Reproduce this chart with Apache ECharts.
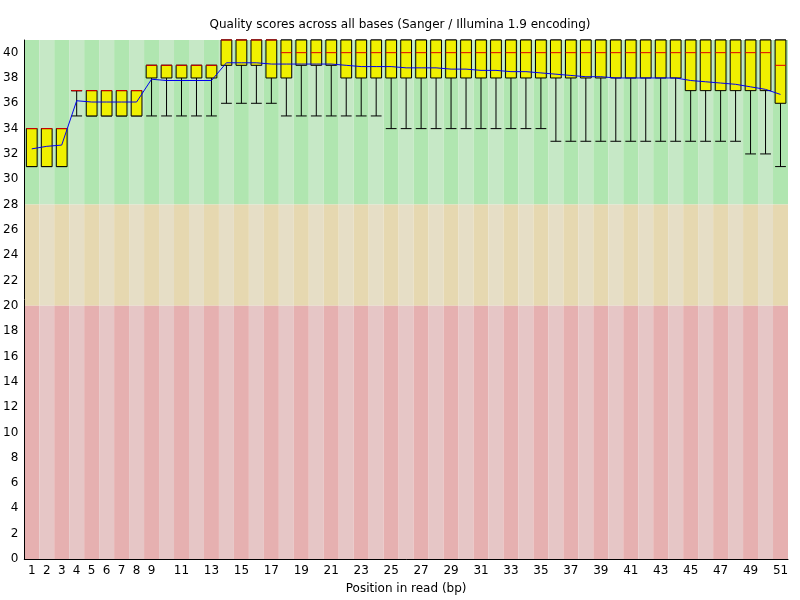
<!DOCTYPE html>
<html>
<head>
<meta charset="utf-8">
<script src="https://cdn.jsdelivr.net/npm/echarts@6/dist/echarts.min.js"></script>
<style>html,body{margin:0;padding:0;background:#fff}#chart{width:800px;height:600px}</style>
</head>
<body>
<div id="chart"></div>
<script>
var positions = [];
for (var i = 1; i <= 51; i++) positions.push(String(i));

// 10th percentile, Q1, median, Q3, 90th percentile
var lowWhisker = [31,31,31,35,35,35,35,35,35,35,35,35,35,36,36,36,36,35,35,35,35,35,35,35,34,34,34,34,34,34,34,34,34,34,34,33,33,33,33,33,33,33,33,33,33,33,33,33,32,32,31];
var q1 =         [31,31,31,37,35,35,35,35,38,38,38,38,38,39,39,39,38,38,39,39,39,38,38,38,38,38,38,38,38,38,38,38,38,38,38,38,38,38,38,38,38,38,38,38,37,37,37,37,37,37,36];
var medians =    [34,34,34,37,37,37,37,37,39,39,39,39,39,41,41,41,41,40,40,40,40,40,40,40,40,40,40,40,40,40,40,40,40,40,40,40,40,40,40,40,40,40,40,40,40,40,40,40,40,40,39];
var q3 =         [34,34,34,37,37,37,37,37,39,39,39,39,39,41,41,41,41,41,41,41,41,41,41,41,41,41,41,41,41,41,41,41,41,41,41,41,41,41,41,41,41,41,41,41,41,41,41,41,41,41,41];
var highWhisker =[34,34,34,37,37,37,37,37,39,39,39,39,39,41,41,41,41,41,41,41,41,41,41,41,41,41,41,41,41,41,41,41,41,41,41,41,41,41,41,41,41,41,41,41,41,41,41,41,41,41,41];
var means = [32.4,32.6,32.7,36.2,36.1,36.1,36.1,36.1,37.9,37.8,37.8,37.8,37.8,39.2,39.2,39.2,39.1,39.1,39.1,39.1,39.1,39.0,38.9,38.9,38.9,38.8,38.8,38.8,38.7,38.7,38.6,38.6,38.5,38.5,38.4,38.3,38.2,38.1,38.1,38.0,38.0,38.0,38.0,38.0,37.8,37.7,37.6,37.5,37.3,37.1,36.7];

var chart = echarts.init(document.getElementById('chart'));

var bands = [
    {from: 28, to: 41, colors: ['#b0e6b0', '#c6e8c6']},
    {from: 20, to: 28, colors: ['#e6d8b0', '#e6dec6']},
    {from: 0, to: 20, colors: ['#e6b0b0', '#e6c6c6']}
];

function renderBackground(params, api) {
    var idx = api.value(0);
    var w = api.size([1, 0])[0];
    var children = [];
    bands.forEach(function(b){
        var top = api.coord([idx, b.to]);
        var bot = api.coord([idx, b.from]);
        children.push({
            type: 'rect',
            shape: {x: top[0] - w / 2, y: top[1], width: w, height: bot[1] - top[1]},
            style: {fill: b.colors[idx % 2]}
        });
    });
    return {type: 'group', children: children, silent: true};
}

function renderBox(params, api) {
    var idx = api.value(0);
    var w = api.size([1, 0])[0] * 0.72;
    var pLo = api.coord([idx, api.value(1)]);
    var pQ1 = api.coord([idx, api.value(2)]);
    var pMed = api.coord([idx, api.value(3)]);
    var pQ3 = api.coord([idx, api.value(4)]);
    var pHi = api.coord([idx, api.value(5)]);
    var x = pQ1[0];
    var line = {stroke: '#000', lineWidth: 1};
    var children = [
        {type: 'line', shape: {x1: x, y1: pLo[1], x2: x, y2: pHi[1]}, style: line},
        {type: 'line', shape: {x1: x - w / 2, y1: pLo[1], x2: x + w / 2, y2: pLo[1]}, style: line},
        {type: 'line', shape: {x1: x - w / 2, y1: pHi[1], x2: x + w / 2, y2: pHi[1]}, style: line},
        {type: 'rect', shape: {x: x - w / 2, y: pQ3[1], width: w, height: pQ1[1] - pQ3[1]},
            style: {fill: '#f0f000', stroke: '#000', lineWidth: 1}},
        {type: 'line', shape: {x1: x - w / 2, y1: pMed[1], x2: x + w / 2, y2: pMed[1]},
            style: {stroke: '#e00000', lineWidth: 1}}
    ];
    return {type: 'group', children: children};
}

var bgData = positions.map(function(p, i){ return [i]; });
var boxData = positions.map(function(p, i){
    return [i, lowWhisker[i], q1[i], medians[i], q3[i], highWhisker[i]];
});

chart.setOption({
    animation: false,
    title: {
        text: 'Quality scores across all bases (Sanger / Illumina 1.9 encoding)',
        left: 'center', top: 14,
        textStyle: {fontFamily: 'DejaVu Sans', fontSize: 12, fontWeight: 'normal', color: '#000'}
    },
    grid: {left: 20, right: 12, top: 40, bottom: 39},
    xAxis: {
        type: 'category',
        data: positions,
        name: 'Position in read (bp)',
        nameLocation: 'middle',
        nameGap: 24,
        nameTextStyle: {fontFamily: 'DejaVu Sans', fontSize: 12, color: '#000'},
        axisTick: {show: false},
        axisLine: {lineStyle: {color: '#000'}},
        axisLabel: {
            color: '#000', fontFamily: 'DejaVu Sans', fontSize: 12, margin: 6,
            interval: function(i){ return i < 9 || i % 2 === 0; }
        }
    },
    yAxis: {
        type: 'value', min: 0, max: 41, interval: 2,
        splitLine: {show: false},
        axisLine: {show: true, lineStyle: {color: '#000'}},
        axisTick: {show: false},
        axisLabel: {color: '#000', fontFamily: 'DejaVu Sans', fontSize: 12, margin: 6, showMaxLabel: false}
    },
    series: [
        {type: 'custom', data: bgData, renderItem: renderBackground, z: 0, silent: true},
        {type: 'custom', data: boxData, renderItem: renderBox, z: 2, encode: {x: 0, y: [1, 5]}},
        {type: 'line', data: means, showSymbol: false, z: 3,
            lineStyle: {color: '#0000ee', width: 1}, itemStyle: {color: '#0000ee'}}
    ]
});
</script>
</body>
</html>
